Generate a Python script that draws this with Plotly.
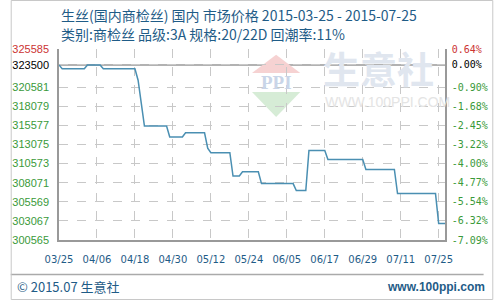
import plotly.graph_objects as go

# ---- data ----
dates = ["2015-03-25", "2015-03-26", "2015-04-02", "2015-04-03", "2015-04-07", "2015-04-08",
         "2015-04-18", "2015-04-19", "2015-04-20", "2015-04-21", "2015-04-28", "2015-04-29",
         "2015-05-03", "2015-05-04", "2015-05-10", "2015-05-11", "2015-05-12", "2015-05-18",
         "2015-05-19", "2015-05-21", "2015-05-22", "2015-05-27", "2015-05-28", "2015-06-07",
         "2015-06-08", "2015-06-11", "2015-06-12", "2015-06-17", "2015-06-18", "2015-06-29",
         "2015-06-30", "2015-07-09", "2015-07-10", "2015-07-22", "2015-07-23", "2015-07-25"]
prices = [323500, 323000, 323000, 323500, 323500, 323000,
          323000, 321500, 318500, 315500, 315500, 314050,
          314050, 314600, 314600, 312600, 312000, 312000,
          308950, 308950, 309500, 309500, 307950, 307950,
          307050, 307050, 312300, 312300, 311100, 311100,
          309800, 309800, 306650, 306650, 302730, 302730]

base_price = 323500
y_ticks = [300565, 303067, 305569, 308071, 310573, 313075, 315577, 318079, 320581, 323500, 325585]
tick_dates = ["2015-03-25", "2015-04-06", "2015-04-18", "2015-04-30", "2015-05-12", "2015-05-24",
              "2015-06-05", "2015-06-17", "2015-06-29", "2015-07-11", "2015-07-23"]
tick_labels = ["03/25", "04/06", "04/18", "04/30", "05/12", "05/24",
               "06/05", "06/17", "06/29", "07/11", "07/25"]
x_range = ["2015-03-25", "2015-07-25"]

title1 = "生丝(国内商检丝) 国内 市场价格 2015-03-25 - 2015-07-25"
title2 = "类别:商检丝 品级:3A 规格:20/22D 回潮率:11%"
footer_left = "© 2015.07 生意社"
footer_right = "www.100ppi.com"

# ---- styling ----
RED = "#cc3333"
GREEN = "#3a9a3a"
BLACK = "#000000"
BLUE_TXT = "#1f5c87"
LINE = "#4a8fb2"
GRID = "#c8c8c8"
AXIS = "#999999"

ymin, ymax = min(y_ticks), max(y_ticks)


def col(v):
    if v == ymax:
        return RED
    if v == base_price:
        return BLACK
    return GREEN


left_text = [f'<span style="color:{col(v)}">{v}</span>' for v in y_ticks]
pct_vals = [(v / base_price - 1) * 100 for v in y_ticks]
right_text = [f'<span style="color:{col(v)}">{p:.2f}%</span>' for v, p in zip(y_ticks, pct_vals)]
pct_prices = [(v / base_price - 1) * 100 for v in prices]

fig = go.Figure()
fig.add_trace(go.Scatter(x=dates, y=prices, mode="lines",
                         line=dict(color=LINE, width=1.5), hoverinfo="skip", showlegend=False))
fig.add_trace(go.Scatter(x=dates, y=pct_prices, mode="lines", yaxis="y2",
                         line=dict(color="rgba(0,0,0,0)", width=0), hoverinfo="skip", showlegend=False))

fig.update_layout(
    width=500, height=300,
    margin=dict(l=50, r=50, t=49, b=60),
    paper_bgcolor="white", plot_bgcolor="white",
    showlegend=False,
    xaxis=dict(type="date", range=x_range, tickvals=tick_dates, ticktext=tick_labels,
               showgrid=True, gridcolor=GRID, griddash="dash", gridwidth=1,
               showline=True, linecolor=AXIS, linewidth=1.5,
               ticks="outside", ticklen=9, tickcolor="rgba(0,0,0,0)",
               tickfont=dict(family="DejaVu Sans", size=10, color=BLUE_TXT),
               zeroline=False, fixedrange=True),
    yaxis=dict(range=[ymin, ymax], tickvals=y_ticks, ticktext=left_text,
               showgrid=True, gridcolor=GRID, griddash="dash", gridwidth=1,
               showline=True, linecolor=AXIS, linewidth=1.5,
               ticks="outside", ticklen=6, tickcolor="rgba(0,0,0,0)",
               tickfont=dict(family="Liberation Sans", size=11),
               zeroline=False, fixedrange=True),
    yaxis2=dict(overlaying="y", side="right",
                range=[(ymin / base_price - 1) * 100, (ymax / base_price - 1) * 100],
                tickvals=pct_vals, ticktext=right_text,
                showgrid=False, showline=True, linecolor=AXIS, linewidth=1.5,
                ticks="outside", ticklen=3, tickcolor="rgba(0,0,0,0)",
                tickfont=dict(family="DejaVu Sans Mono", size=10),
                zeroline=False, fixedrange=True),
)

shapes = [
    # baseline
    dict(type="line", xref="paper", yref="y", x0=0, x1=1, y0=base_price, y1=base_price,
         line=dict(color=AXIS, width=1.5), layer="below"),
    # footer separator
    dict(type="line", xref="paper", yref="paper", x0=-0.125, x1=1.1, y0=-0.1806, y1=-0.1806,
         line=dict(color="#aaaaaa", width=1.5)),
    # outer frame
    dict(type="rect", xref="paper", yref="paper", x0=-0.1238, x1=1.1238, y0=-0.3115, y1=1.2539,
         line=dict(color="#c8c8c8", width=1)),
    # watermark logo triangles
    dict(type="path", xref="paper", yref="paper", layer="below",
         path="M 0.5625 0.97 L 0.5 0.874 L 0.625 0.874 Z",
         fillcolor="#f6d2d2", line=dict(width=0)),
    dict(type="path", xref="paper", yref="paper", layer="below",
         path="M 0.5 0.775 L 0.625 0.775 L 0.5625 0.644 Z",
         fillcolor="#d6ecd6", line=dict(width=0)),
]

annotations = [
    dict(text=title1, xref="paper", yref="paper", x=0, y=1.178, xanchor="left", yanchor="middle",
         showarrow=False, font=dict(family="Noto Sans CJK SC", size=14, color=BLUE_TXT)),
    dict(text=title2, xref="paper", yref="paper", x=0, y=1.079, xanchor="left", yanchor="middle",
         showarrow=False, font=dict(family="Noto Sans CJK SC", size=14, color=BLUE_TXT)),
    dict(text=footer_left, xref="paper", yref="paper", x=-0.115, y=-0.246, xanchor="left",
         yanchor="middle", showarrow=False,
         font=dict(family="Noto Sans CJK SC", size=13, color=BLUE_TXT)),
    dict(text="<b>" + footer_right + "</b>", xref="paper", yref="paper", x=1.11, y=-0.246,
         xanchor="right", yanchor="middle", showarrow=False,
         font=dict(family="Liberation Sans", size=12, color=BLUE_TXT)),
    # watermark
    dict(text="<b>PPI</b>", xref="paper", yref="paper", x=0.5625, y=0.827, xanchor="center",
         yanchor="middle", showarrow=False,
         font=dict(family="Liberation Serif", size=19, color="#c9d5e8")),
    dict(text="<b>生意社</b>", xref="paper", yref="paper", x=0.68, y=0.9, xanchor="left",
         yanchor="middle", showarrow=False,
         font=dict(family="Noto Sans CJK SC", size=37, color="#e0e6ef")),
    dict(text="WWW.100PPI.COM", xref="paper", yref="paper", x=0.685, y=0.72, xanchor="left",
         yanchor="middle", showarrow=False,
         font=dict(family="Liberation Sans", size=14, color="#e4e4e4")),
]

fig.update_layout(shapes=shapes, annotations=annotations)
fig.write_html("out.html")
